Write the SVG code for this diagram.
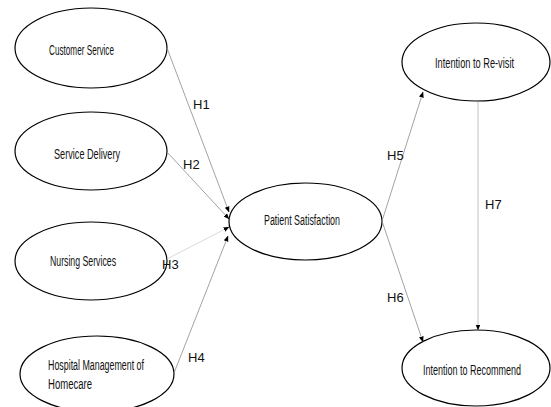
<svg xmlns="http://www.w3.org/2000/svg" width="551" height="407" viewBox="0 0 551 407">
  <style>
    .node ellipse { fill: #ffffff; stroke: #000000; stroke-width: 1.2; }
    .node text { font-family: "Liberation Sans Narrow", "Liberation Sans", Arial, sans-serif; font-size: 14px; fill: #111111; }
    .edge { fill: none; stroke: #8c8c8c; stroke-width: 0.8; marker-end: url(#arrow); }
    .edge.light { stroke: #cfcfcf; }
    .edge.mid { stroke: #b0b0b0; }
    .lbl { font-family: "Liberation Sans Narrow", "Liberation Sans", Arial, sans-serif; font-size: 13px; fill: #111111; }
  </style>
  <defs>
    <marker id="arrow" markerUnits="userSpaceOnUse" markerWidth="6" markerHeight="6" viewBox="0 0 6 6" refX="5.5" refY="3" orient="auto">
      <path d="M0,0.6 L6,3 L0,5.4 Z" fill="#000000"/>
    </marker>
  </defs>
  <rect width="551" height="407" fill="#ffffff"/>

  <g id="customer-service" class="node">
    <ellipse cx="91" cy="48" rx="76" ry="40"/>
    <text x="49" y="55" textLength="65" lengthAdjust="spacingAndGlyphs">Customer Service</text>
  </g>
  <g id="service-delivery" class="node">
    <ellipse cx="91" cy="151" rx="76" ry="39"/>
    <text x="54" y="159" textLength="66" lengthAdjust="spacingAndGlyphs">Service Delivery</text>
  </g>
  <g id="nursing-services" class="node">
    <ellipse cx="91" cy="261" rx="76" ry="39"/>
    <text x="50" y="266" textLength="66" lengthAdjust="spacingAndGlyphs">Nursing Services</text>
  </g>
  <g id="hospital-management" class="node">
    <ellipse cx="97" cy="374" rx="77" ry="38"/>
    <text x="48" y="370" textLength="96" lengthAdjust="spacingAndGlyphs">Hospital Management of</text>
    <text x="48" y="389" textLength="44" lengthAdjust="spacingAndGlyphs">Homecare</text>
  </g>
  <g id="patient-satisfaction" class="node">
    <ellipse cx="305.5" cy="221.5" rx="76.5" ry="38.5"/>
    <text x="264" y="225" textLength="76" lengthAdjust="spacingAndGlyphs">Patient Satisfaction</text>
  </g>
  <g id="intention-revisit" class="node">
    <ellipse cx="476" cy="62" rx="74" ry="39"/>
    <text x="435" y="68" textLength="79" lengthAdjust="spacingAndGlyphs">Intention to Re-visit</text>
  </g>
  <g id="intention-recommend" class="node">
    <ellipse cx="476" cy="368" rx="74" ry="38"/>
    <text x="423" y="375" textLength="98" lengthAdjust="spacingAndGlyphs">Intention to Recommend</text>
  </g>

  <!-- connectors, drawn above the ellipses so labels near the edges stay visible -->
  <g id="connectors">
    <line class="edge" x1="167" y1="48" x2="229" y2="212"/>
    <line class="edge" x1="167" y1="152" x2="229" y2="219"/>
    <line class="edge light" x1="167" y1="259" x2="229" y2="227"/>
    <line class="edge" x1="174" y1="373" x2="228" y2="236"/>
    <line class="edge" x1="382" y1="221" x2="423" y2="92"/>
    <line class="edge" x1="382" y1="221" x2="423" y2="342"/>
    <line class="edge mid" x1="478" y1="102" x2="478" y2="330"/>
    <text class="lbl" x="193" y="109">H1</text>
    <text class="lbl" x="183" y="169">H2</text>
    <text class="lbl" x="162" y="269">H3</text>
    <text class="lbl" x="188" y="362">H4</text>
    <text class="lbl" x="387" y="160">H5</text>
    <text class="lbl" x="387" y="302">H6</text>
    <text class="lbl" x="485" y="209">H7</text>
  </g>
</svg>
